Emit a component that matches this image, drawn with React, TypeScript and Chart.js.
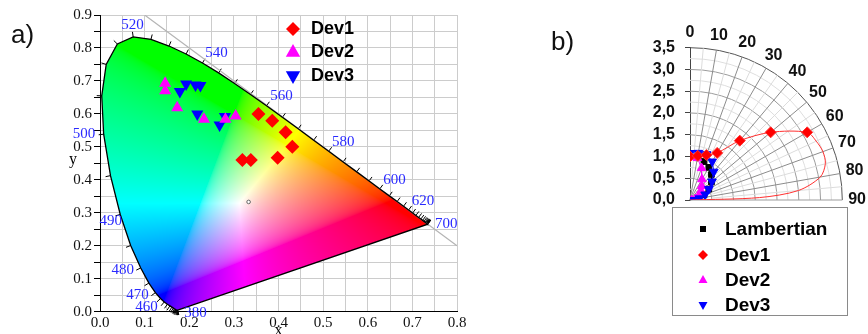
import React, { useEffect, useRef } from 'react';
import { Chart, registerables } from 'chart.js';

Chart.register(...registerables);

// ---------- Panel a) CIE 1931 chromaticity diagram ----------
const locusNm = [380,385,390,395,400,405,410,415,420,425,430,435,440,445,450,455,460,465,470,475,480,485,490,495,500,505,510,515,520,525,530,535,540,545,550,555,560,565,570,575,580,585,590,595,600,605,610,615,620,625,630,635,640,645,650,655,660,665,670,675,680,685,690,695,700];
const locusX = [0.1741,0.1740,0.1738,0.1736,0.1733,0.1730,0.1726,0.1721,0.1714,0.1703,0.1689,0.1669,0.1644,0.1611,0.1566,0.1510,0.1440,0.1355,0.1241,0.1096,0.0913,0.0687,0.0454,0.0235,0.0082,0.0039,0.0139,0.0389,0.0743,0.1142,0.1547,0.1929,0.2296,0.2658,0.3016,0.3373,0.3731,0.4087,0.4441,0.4788,0.5125,0.5448,0.5752,0.6029,0.6270,0.6482,0.6658,0.6801,0.6915,0.7006,0.7079,0.7140,0.7190,0.7230,0.7260,0.7283,0.7300,0.7311,0.7320,0.7327,0.7334,0.7340,0.7344,0.7346,0.7347];
const locusY = [0.0050,0.0050,0.0049,0.0049,0.0048,0.0048,0.0048,0.0048,0.0051,0.0058,0.0069,0.0086,0.0109,0.0138,0.0177,0.0227,0.0297,0.0399,0.0578,0.0868,0.1327,0.2007,0.2950,0.4127,0.5384,0.6548,0.7502,0.8120,0.8338,0.8262,0.8059,0.7816,0.7543,0.7243,0.6923,0.6589,0.6245,0.5896,0.5547,0.5202,0.4866,0.4544,0.4242,0.3965,0.3725,0.3514,0.3340,0.3197,0.3083,0.2993,0.2920,0.2859,0.2809,0.2770,0.2740,0.2717,0.2700,0.2689,0.2680,0.2673,0.2666,0.2660,0.2656,0.2654,0.2653];

const diagLineX = [0.1, 0.8];
const diagLineY = [0.9, 0.2];

const whitePointX = [0.333];
const whitePointY = [0.333];

const dev1X = [0.355, 0.386, 0.416, 0.431, 0.398, 0.319, 0.338];
const dev1Y = [0.600, 0.579, 0.544, 0.500, 0.467, 0.460, 0.460];
const dev2X = [0.146, 0.146, 0.173, 0.233, 0.281, 0.304];
const dev2Y = [0.693, 0.670, 0.619, 0.584, 0.584, 0.594];
const dev3X = [0.179, 0.193, 0.214, 0.225, 0.218, 0.268, 0.280];
const dev3Y = [0.668, 0.691, 0.688, 0.686, 0.600, 0.566, 0.592];

const wlLabels = ['520', '540', '560', '580', '600', '620', '700', '500', '490', '480', '470', '460', '380'];
const wlLabelX = [0.073, 0.261, 0.407, 0.545, 0.660, 0.724, 0.776, -0.036, 0.024, 0.051, 0.084, 0.104, 0.214];
const wlLabelY = [0.870, 0.786, 0.654, 0.514, 0.399, 0.336, 0.266, 0.539, 0.276, 0.126, 0.051, 0.015, -0.003];

const cieLegendLabels = ['Dev1', 'Dev2', 'Dev3'];

// ---------- Panel b) angular emission (polar quadrant) ----------
const polarAngles = [0, 10, 20, 30, 40, 50, 60, 70, 80, 90];
const lambertR = [1.0, 0.985, 0.94, 0.866, 0.766, 0.643, 0.5, 0.342, 0.174, 0.0];
const dev2R = [1.0, 0.98, 0.78, 0.55, 0.42, 0.33, 0.27, 0.2, 0.12, 0.04];
const dev3R = [1.08, 1.1, 1.12, 1.02, 0.85, 0.66, 0.5, 0.37, 0.22, 0.06];
const dev1Angles = [0, 10, 20, 30, 40, 50, 60, 65, 70, 75, 80, 85, 88, 90];
const dev1R = [1.0, 1.03, 1.1, 1.25, 1.78, 2.42, 3.11, 3.2, 3.25, 3.22, 3.04, 2.5, 1.6, 0.0];
const dev1MarkerCount = 7;

const angleLabels = [0, 10, 20, 30, 40, 50, 60, 70, 80, 90];
const angleLabelRadius = 3.84;
const polarMax = 3.5;
const polarLegendLabels = ['Lambertian', 'Dev1', 'Dev2', 'Dev3'];

const RED = '#ff0000';
const MAGENTA = '#ff00ff';
const BLUE = '#0000ff';
const SANS = '"Liberation Sans", Arial, sans-serif';
const SERIF = '"Liberation Serif", "Times New Roman", serif';

const toPts = (xs: number[], ys: number[]) => xs.map((x, i) => ({ x, y: ys[i] }));
const polarPts = (angles: number[], rs: number[]) =>
  angles.map((a, i) => {
    const t = (a * Math.PI) / 180;
    return { x: rs[i] * Math.sin(t), y: rs[i] * Math.cos(t) };
  });

function drawMarker(ctx: CanvasRenderingContext2D, style: string, x: number, y: number, r: number, color: string) {
  ctx.save();
  ctx.fillStyle = color;
  ctx.beginPath();
  if (style === 'diamond') {
    ctx.moveTo(x, y - r); ctx.lineTo(x + r, y); ctx.lineTo(x, y + r); ctx.lineTo(x - r, y);
  } else if (style === 'up') {
    ctx.moveTo(x, y - r); ctx.lineTo(x + r * 0.9, y + r * 0.6); ctx.lineTo(x - r * 0.9, y + r * 0.6);
  } else if (style === 'down') {
    ctx.moveTo(x, y + r); ctx.lineTo(x + r * 0.9, y - r * 0.6); ctx.lineTo(x - r * 0.9, y - r * 0.6);
  } else {
    ctx.rect(x - r, y - r, 2 * r, 2 * r);
  }
  ctx.closePath();
  ctx.fill();
  ctx.restore();
}

const gam = (c: number) => (c <= 0.0031308 ? 12.92 * c : 1.055 * Math.pow(c, 1 / 2.4) - 0.055);

const cieGamutPlugin = {
  id: 'cieGamut',
  beforeDatasetsDraw(chart: any) {
    const { ctx, chartArea: a, scales } = chart;
    const xs = scales.x, ys = scales.y;
    const w = Math.ceil(a.right - a.left), h = Math.ceil(a.bottom - a.top);
    const off = document.createElement('canvas');
    off.width = w; off.height = h;
    const octx = off.getContext('2d') as CanvasRenderingContext2D;
    const img = octx.createImageData(w, h);
    const d = img.data;
    for (let j = 0; j < h; j++) {
      const cy = ys.getValueForPixel(a.top + j + 0.5);
      if (cy <= 0.0005) continue;
      for (let i = 0; i < w; i++) {
        const cx = xs.getValueForPixel(a.left + i + 0.5);
        const X = cx / cy, Z = (1 - cx - cy) / cy;
        let r = Math.max(0, 3.2406 * X - 1.5372 - 0.4986 * Z);
        let g = Math.max(0, -0.9689 * X + 1.8758 + 0.0415 * Z);
        let b = Math.max(0, 0.0557 * X - 0.204 + 1.057 * Z);
        const m = Math.max(r, g, b, 1e-6);
        const k = (j * w + i) * 4;
        d[k] = gam(r / m) * 255;
        d[k + 1] = gam(g / m) * 255;
        d[k + 2] = gam(b / m) * 255;
        d[k + 3] = 255;
      }
    }
    octx.putImageData(img, 0, 0);
    ctx.save();
    ctx.beginPath();
    locusX.forEach((vx, idx) => {
      const px = xs.getPixelForValue(vx), py = ys.getPixelForValue(locusY[idx]);
      if (idx === 0) ctx.moveTo(px, py); else ctx.lineTo(px, py);
    });
    ctx.closePath();
    ctx.clip();
    ctx.drawImage(off, a.left, a.top);
    ctx.restore();

    // wavelength ticks along the locus
    const wx = xs.getPixelForValue(whitePointX[0]), wy = ys.getPixelForValue(whitePointY[0]);
    ctx.save();
    ctx.strokeStyle = '#000';
    ctx.lineWidth = 1;
    for (let i = 1; i < locusNm.length - 1; i++) {
      const px = xs.getPixelForValue(locusX[i]), py = ys.getPixelForValue(locusY[i]);
      const tx = xs.getPixelForValue(locusX[i + 1]) - xs.getPixelForValue(locusX[i - 1]);
      const ty = ys.getPixelForValue(locusY[i + 1]) - ys.getPixelForValue(locusY[i - 1]);
      const len = Math.hypot(tx, ty) || 1;
      let nx = -ty / len, ny = tx / len;
      if (nx * (px - wx) + ny * (py - wy) < 0) { nx = -nx; ny = -ny; }
      ctx.beginPath();
      ctx.moveTo(px, py);
      ctx.lineTo(px + nx * 5, py + ny * 5);
      ctx.stroke();
    }
    ctx.restore();
  },
  afterDraw(chart: any) {
    const { ctx, scales } = chart;
    const xs = scales.x, ys = scales.y;
    ctx.save();
    ctx.fillStyle = '#2a2aff';
    ctx.font = `15px ${SERIF}`;
    ctx.textAlign = 'center';
    ctx.textBaseline = 'middle';
    wlLabels.forEach((t, i) => {
      ctx.fillText(t, xs.getPixelForValue(wlLabelX[i]), ys.getPixelForValue(wlLabelY[i]));
    });
    // axis titles
    ctx.fillStyle = '#000';
    ctx.font = `16px ${SERIF}`;
    ctx.fillText('y', 73, 160);
    ctx.fillText('x', xs.getPixelForValue(0.4), 331);
    // legend
    const styles = ['diamond', 'up', 'down'];
    const colors = [RED, MAGENTA, BLUE];
    const ly = [29, 52, 76];
    ctx.font = `bold 18px ${SANS}`;
    ctx.textAlign = 'left';
    cieLegendLabels.forEach((t, i) => {
      drawMarker(ctx, styles[i], 293, ly[i], styles[i] === 'diamond' ? 7 : 8, colors[i]);
      ctx.fillStyle = '#000';
      ctx.fillText(t, 311, ly[i]);
    });
    ctx.restore();
  },
};

const polarPlugin = {
  id: 'polarGrid',
  beforeDatasetsDraw(chart: any) {
    const { ctx, scales } = chart;
    const xs = scales.x, ys = scales.y;
    const ox = xs.getPixelForValue(0), oy = ys.getPixelForValue(0);
    const R = xs.getPixelForValue(1) - ox;
    ctx.save();
    ctx.lineWidth = 1;
    for (let k = 1; k <= 14; k++) {
      ctx.strokeStyle = k === 14 ? '#555' : k % 2 ? '#dedede' : '#9c9c9c';
      ctx.beginPath();
      ctx.arc(ox, oy, k * 0.25 * R, -Math.PI / 2, 0);
      ctx.stroke();
    }
    for (let a = 5; a < 90; a += 5) {
      const t = (a * Math.PI) / 180;
      const major = a % 10 === 0;
      const r0 = major ? 0 : 0.5;
      ctx.strokeStyle = major ? '#8c8c8c' : '#dcdcdc';
      ctx.beginPath();
      ctx.moveTo(ox + r0 * R * Math.sin(t), oy - r0 * R * Math.cos(t));
      ctx.lineTo(ox + polarMax * R * Math.sin(t), oy - polarMax * R * Math.cos(t));
      ctx.stroke();
    }
    ctx.strokeStyle = '#9c9c9c';
    ctx.beginPath();
    ctx.moveTo(ox, oy);
    ctx.lineTo(ox + polarMax * R, oy);
    ctx.stroke();
    ctx.restore();
  },
  afterDraw(chart: any) {
    const { ctx, scales } = chart;
    const xs = scales.x, ys = scales.y;
    ctx.save();
    ctx.fillStyle = '#111';
    ctx.font = `bold 16px ${SANS}`;
    ctx.textAlign = 'center';
    ctx.textBaseline = 'middle';
    angleLabels.forEach((a) => {
      const t = (a * Math.PI) / 180;
      ctx.fillText(String(a), xs.getPixelForValue(angleLabelRadius * Math.sin(t)), ys.getPixelForValue(angleLabelRadius * Math.cos(t)));
    });
    // legend box
    ctx.fillStyle = '#fff';
    ctx.fillRect(132, 207, 175, 109);
    ctx.strokeStyle = '#8a8a8a';
    ctx.lineWidth = 1;
    ctx.strokeRect(132.5, 207.5, 175, 108);
    const styles = ['square', 'diamond', 'up', 'down'];
    const colors = ['#000', RED, MAGENTA, BLUE];
    const sizes = [3, 5, 5, 5];
    const ly = [229, 255, 280, 305];
    ctx.font = `bold 19px ${SANS}`;
    ctx.textAlign = 'left';
    polarLegendLabels.forEach((t, i) => {
      drawMarker(ctx, styles[i], 163, ly[i], sizes[i], colors[i]);
      ctx.fillStyle = '#000';
      ctx.fillText(t, 185, ly[i] + 1);
    });
    ctx.restore();
  },
};

export default function App() {
  const ref1 = useRef<HTMLCanvasElement>(null);
  const ref2 = useRef<HTMLCanvasElement>(null);

  useEffect(() => {
    const c1 = new Chart(ref1.current as HTMLCanvasElement, {
      type: 'scatter',
      data: {
        datasets: [
          { label: 'Dev1', data: toPts(dev1X, dev1Y), pointStyle: 'rectRot', pointRadius: 7, backgroundColor: RED, borderColor: RED, borderWidth: 0 },
          { label: 'Dev2', data: toPts(dev2X, dev2Y), pointStyle: 'triangle', pointRadius: 7, backgroundColor: MAGENTA, borderColor: MAGENTA, borderWidth: 0 },
          { label: 'Dev3', data: toPts(dev3X, dev3Y), pointStyle: 'triangle', pointRotation: 180, pointRadius: 7, backgroundColor: BLUE, borderColor: BLUE, borderWidth: 0 },
          { label: 'white', data: toPts(whitePointX, whitePointY), pointStyle: 'circle', pointRadius: 1.8, backgroundColor: '#fff', borderColor: '#666', borderWidth: 1 },
          { label: 'locus', data: toPts([...locusX, locusX[0]], [...locusY, locusY[0]]), showLine: true, pointRadius: 0, borderColor: '#000', borderWidth: 1.3, fill: false },
          { label: 'x+y=1', data: toPts(diagLineX, diagLineY), showLine: true, pointRadius: 0, borderColor: '#b4b4b4', borderWidth: 1.2 },
        ],
      } as any,
      options: {
        responsive: false,
        animation: false,
        layout: { padding: { left: 0, top: 15, right: 23, bottom: 0 } },
        plugins: { legend: { display: false }, tooltip: { enabled: false } },
        scales: {
          x: {
            type: 'linear', min: 0, max: 0.8,
            afterFit: (s: any) => { s.height = 22.3; },
            grid: { color: '#cccccc', drawTicks: false },
            border: { color: '#000', width: 1 },
            ticks: {
              stepSize: 0.05, autoSkip: false, maxRotation: 0, padding: 2, color: '#111',
              font: { family: SERIF, size: 15 },
              callback: (v: any) => (Math.round(Number(v) * 20) % 2 === 0 ? Number(v).toFixed(1) : ''),
            },
          },
          y: {
            type: 'linear', min: 0, max: 0.9,
            afterFit: (s: any) => { s.width = 100; },
            grid: { color: '#cccccc', tickColor: '#000', tickLength: 6 },
            border: { color: '#000', width: 1 },
            ticks: {
              stepSize: 0.05, autoSkip: false, padding: 2, color: '#111',
              font: { family: SERIF, size: 15 },
              callback: (v: any) => (Math.round(Number(v) * 20) % 2 === 0 ? Number(v).toFixed(1) : ''),
            },
          },
        },
      } as any,
      plugins: [cieGamutPlugin],
    });

    const c2 = new Chart(ref2.current as HTMLCanvasElement, {
      type: 'scatter',
      data: {
        datasets: [
          {
            label: 'Dev1', data: polarPts(dev1Angles, dev1R), showLine: true, tension: 0.3,
            pointRadius: dev1Angles.map((_, i) => (i < dev1MarkerCount ? 5.5 : 0)),
            pointStyle: 'rectRot', backgroundColor: RED, borderColor: '#ff3030', borderWidth: 1,
          },
          {
            label: 'Dev3', data: polarPts(polarAngles, dev3R), showLine: true,
            pointStyle: 'triangle', pointRotation: 180, pointRadius: 5, backgroundColor: BLUE, borderColor: BLUE, borderWidth: 1,
          },
          {
            label: 'Dev2', data: polarPts(polarAngles, dev2R), showLine: true,
            pointStyle: 'triangle', pointRadius: 5, backgroundColor: MAGENTA, borderColor: MAGENTA, borderWidth: 1,
          },
          {
            label: 'Lambertian', data: polarPts(polarAngles, lambertR), showLine: true,
            pointStyle: 'rect', pointRadius: 4, backgroundColor: '#000', borderColor: '#000', borderWidth: 1,
          },
        ],
      } as any,
      options: {
        responsive: false,
        animation: false,
        layout: { padding: { left: 110, top: 47.7, right: 25.7, bottom: 134 } },
        plugins: { legend: { display: false }, tooltip: { enabled: false } },
        scales: {
          x: { type: 'linear', min: 0, max: polarMax, display: false },
          y: {
            type: 'linear', min: 0, max: polarMax,
            afterFit: (s: any) => { s.width = 40; },
            grid: { drawOnChartArea: false, tickColor: '#444', tickLength: 5 },
            border: { color: '#444', width: 1 },
            ticks: {
              stepSize: 0.5, autoSkip: false, padding: 10, color: '#111',
              font: { family: SANS, size: 16, weight: 'bold' },
              callback: (v: any) => Number(v).toFixed(1).replace('.', ','),
            },
          },
        },
      } as any,
      plugins: [polarPlugin],
    });

    return () => { c1.destroy(); c2.destroy(); };
  }, []);

  return (
    <div style={{ position: 'fixed', left: 0, top: 0, width: 868, height: 334, background: '#fff', overflow: 'hidden' }}>
      <canvas ref={ref1} width={480} height={334} style={{ position: 'absolute', left: 0, top: 0, display: 'block' }} />
      <canvas ref={ref2} width={328} height={334} style={{ position: 'absolute', left: 540, top: 0, display: 'block' }} />
      <div style={{ position: 'absolute', left: 11, top: 21, font: `26px ${SANS}`, lineHeight: '26px', color: '#111' }}>a)</div>
      <div style={{ position: 'absolute', left: 551, top: 28, font: `26px ${SANS}`, lineHeight: '26px', color: '#111' }}>b)</div>
    </div>
  );
}
